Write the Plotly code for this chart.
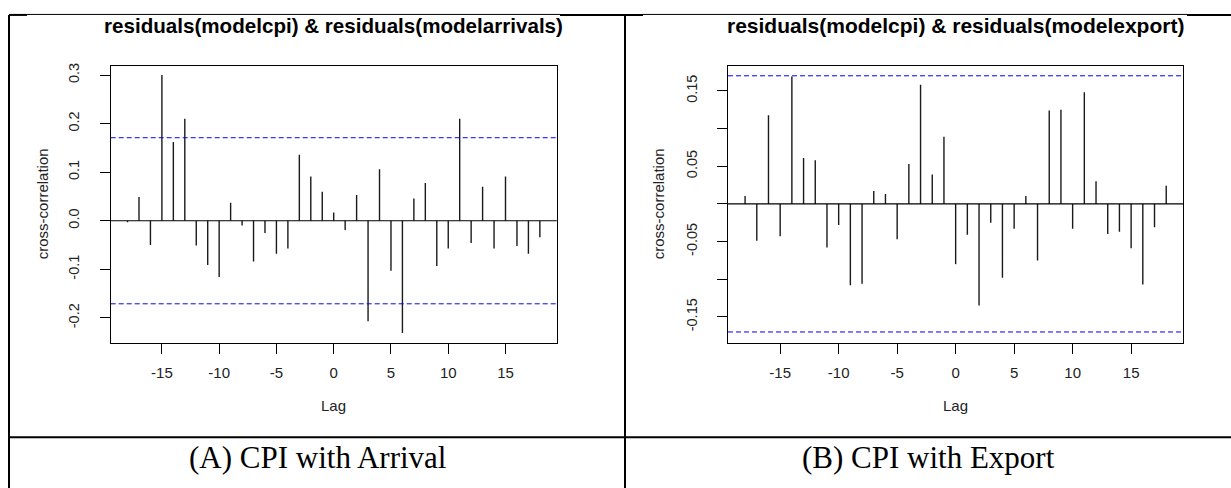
import plotly.graph_objects as go

# ---------------- data ----------------
lags = list(range(-18, 19))

ccf_arrivals = [-0.003, 0.049, -0.050, 0.300, 0.162, 0.210, -0.051, -0.091, -0.116,
                0.037, -0.010, -0.084, -0.025, -0.068, -0.057, 0.136, 0.091, 0.060,
                0.017, -0.019, 0.053, -0.207, 0.106, -0.103, -0.231, 0.046, 0.078,
                -0.093, -0.057, 0.210, -0.046, 0.070, -0.057, 0.091, -0.052, -0.068,
                -0.034]

ccf_export = [0.0105, -0.049, 0.1175, -0.043, 0.169, 0.061, 0.058, -0.058, -0.028,
              -0.108, -0.106, 0.017, 0.013, -0.047, 0.053, 0.158, 0.039, 0.089,
              -0.080, -0.041, -0.135, -0.025, -0.098, -0.033, 0.0105, -0.075, 0.124,
              0.125, -0.033, 0.148, 0.030, -0.040, -0.037, -0.059, -0.107, -0.031,
              0.024]

ci_arrivals = 0.171
ci_export = 0.170

titles = ["residuals(modelcpi) & residuals(modelarrivals)",
          "residuals(modelcpi) & residuals(modelexport)"]
captions = ["(A) CPI with Arrival", "(B) CPI with Export"]
x_label = "Lag"
y_label = "cross-correlation"

xtick_vals = [-15, -10, -5, 0, 5, 10, 15]
xtick_text = ["-15", "-10", "-5", "0", "5", "10", "15"]
left_ytick_vals = [-0.2, -0.1, 0.0, 0.1, 0.2, 0.3]
left_ytick_text = ["-0.2", "-0.1", "0.0", "0.1", "0.2", "0.3"]
right_ytick_vals = [-0.15, -0.10, -0.05, 0.0, 0.05, 0.10, 0.15]
right_ytick_text = ["-0.15", "", "-0.05", "", "0.05", "", "0.15"]

# ---------------- layout helpers ----------------
W, H = 1231, 488


def fx(px):
    return px / W


def fy(py):
    return (H - py) / H


def stems(xv, yv):
    xs, ys = [], []
    for a, b in zip(xv, yv):
        xs += [a, a, None]
        ys += [0, b, None]
    return xs, ys


fig = go.Figure()

BAR = "#1a1a1a"
for i, (vals, ci) in enumerate([(ccf_arrivals, ci_arrivals), (ccf_export, ci_export)]):
    xa = "x" if i == 0 else "x2"
    ya = "y" if i == 0 else "y2"
    xs, ys = stems(lags, vals)
    fig.add_trace(go.Scatter(x=xs, y=ys, mode="lines", xaxis=xa, yaxis=ya,
                             line=dict(color=BAR, width=1.4), hoverinfo="skip",
                             showlegend=False))
    # zero line
    fig.add_shape(type="line", xref=f"{xa} domain", yref=ya, x0=0, x1=1, y0=0, y1=0,
                  line=dict(color="black", width=1.2))
    # confidence limits
    for c in (ci, -ci):
        fig.add_shape(type="line", xref=f"{xa} domain", yref=ya, x0=0, x1=1, y0=c, y1=c,
                      line=dict(color="#0000ff", width=1, dash="5px,3px"))

axis_common = dict(showline=True, mirror=True, linecolor="black", linewidth=1,
                   ticks="outside", ticklen=10, tickcolor="black", tickwidth=1,
                   showgrid=False, zeroline=False,
                   tickfont=dict(family="Liberation Sans", size=15, color="#222222"))

box_top, box_bot = 63, 342
left_box = (110.7, 556.7)
right_box = (728.0, 1183.3)

fig.update_layout(
    width=W, height=H, autosize=False,
    margin=dict(l=0, r=0, t=0, b=0),
    paper_bgcolor="white", plot_bgcolor="white",
    xaxis=dict(domain=[fx(left_box[0]), fx(left_box[1])], anchor="y",
               range=[-19.47, 19.47], tickvals=xtick_vals, ticktext=xtick_text,
               ticklabelstandoff=6, **axis_common),
    yaxis=dict(domain=[fy(box_bot), fy(box_top)], anchor="x",
               range=[-0.2515, 0.3195], tickvals=left_ytick_vals, ticktext=left_ytick_text,
               tickangle=-90, ticklabelstandoff=15, **axis_common),
    xaxis2=dict(domain=[fx(right_box[0]), fx(right_box[1])], anchor="y2",
                range=[-19.46, 19.46], tickvals=xtick_vals, ticktext=xtick_text,
                ticklabelstandoff=6, **axis_common),
    yaxis2=dict(domain=[fy(box_bot), fy(box_top)], anchor="x2",
                range=[-0.1845, 0.1835], tickvals=right_ytick_vals, ticktext=right_ytick_text,
                tickangle=-90, ticklabelstandoff=14, **axis_common),
)
fig.update_yaxes(tickfont=dict(size=14.5))

# ---------------- text ----------------
ann = []
centers = [(left_box[0] + left_box[1]) / 2, (right_box[0] + right_box[1]) / 2]
title_sizes = [20.6, 21]
ylab_x = [42, 658]
cell_centers = [(9 + 625) / 2, (625 + 1231) / 2]
for i in range(2):
    ann.append(dict(text=titles[i], x=fx(centers[i]), y=fy(22.5), xref="paper", yref="paper",
                    xanchor="center", yanchor="middle", showarrow=False,
                    font=dict(family="Liberation Sans", size=title_sizes[i], color="black",
                              weight="bold")))
    ann.append(dict(text=x_label, x=fx(centers[i]), y=fy(404.5), xref="paper", yref="paper",
                    xanchor="center", yanchor="middle", showarrow=False,
                    font=dict(family="Liberation Sans", size=15, color="#222222")))
    ann.append(dict(text=y_label, x=fx(ylab_x[i]), y=fy((box_top + box_bot) / 2),
                    xref="paper", yref="paper", xanchor="center", yanchor="middle",
                    textangle=-90, showarrow=False,
                    font=dict(family="Liberation Sans", size=15, color="#222222")))
    ann.append(dict(text=captions[i], x=fx(cell_centers[i]), y=fy(457), xref="paper",
                    yref="paper", xanchor="center", yanchor="middle", showarrow=False,
                    font=dict(family="Liberation Serif", size=31, color="black")))
fig.update_layout(annotations=ann)

# ---------------- table borders ----------------
def pline(x0, y0, x1, y1, w):
    fig.add_shape(type="line", xref="paper", yref="paper",
                  x0=fx(x0), y0=fy(y0), x1=fx(x1), y1=fy(y1),
                  line=dict(color="black", width=w), layer="above")

pline(9, 12, 9, 488, 2)          # left border
pline(625, 12, 625, 488, 2)      # middle divider
pline(9, 437, 1231, 437, 2)      # row divider
for a, b in [(9, 27), (560, 643), (1187, 1231)]:
    pline(a, 12, b, 12, 2)       # thick top border segments
for a, b in [(27, 560), (643, 1187)]:
    pline(a, 11.5, b, 11.5, 1)   # thin edge where images cover the border

fig.write_html("out.html",
               config={"displayModeBar": False, "staticPlot": True},
               post_script="document.body.style.margin='0';"
                           "document.body.style.overflow='hidden';")
